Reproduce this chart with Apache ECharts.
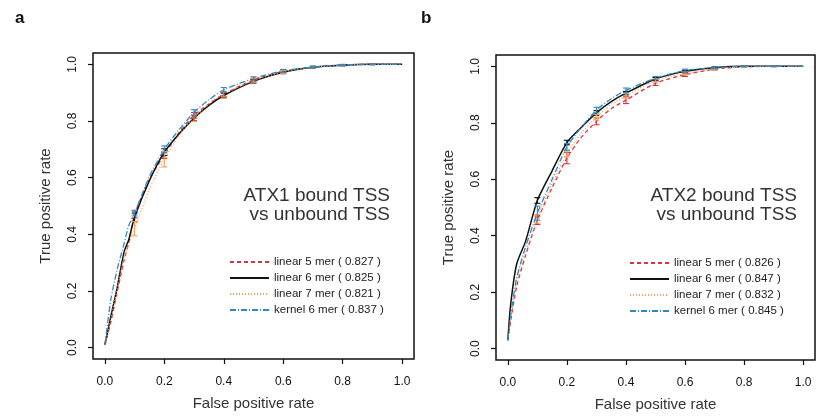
<!DOCTYPE html>
<html><head><meta charset="utf-8">
<script src="https://cdn.jsdelivr.net/npm/echarts@6/dist/echarts.min.js"></script>
<style>html,body{margin:0;padding:0;background:#fff}#c{width:816px;height:417px}</style>
</head><body><div id="c"></div>
<script>
// ---------- data ----------
const tickValues = [0, 0.2, 0.4, 0.6, 0.8, 1.0];
const errX = [0.1, 0.2, 0.3, 0.4, 0.5, 0.6, 0.7, 0.8, 0.9];

// Panel a (ATX1)
const fprA = [0, 0.02, 0.04, 0.065, 0.08, 0.1, 0.15, 0.2, 0.25, 0.3, 0.35, 0.4, 0.5, 0.6, 0.7, 0.8, 0.9, 1.0];
const a_lin5 = [0.01, 0.09, 0.19, 0.31, 0.37, 0.47, 0.595, 0.68, 0.76, 0.82, 0.86, 0.895, 0.945, 0.975, 0.99, 0.997, 1.0, 1.0];
const a_lin6 = [0.01, 0.11, 0.205, 0.34, 0.38, 0.46, 0.59, 0.69, 0.755, 0.81, 0.855, 0.89, 0.94, 0.972, 0.99, 0.997, 1.0, 1.0];
const a_lin7 = [0.01, 0.10, 0.20, 0.32, 0.36, 0.42, 0.56, 0.665, 0.75, 0.81, 0.86, 0.895, 0.943, 0.973, 0.99, 0.997, 1.0, 1.0];
const a_ker6 = [0.01, 0.17, 0.27, 0.37, 0.43, 0.475, 0.605, 0.70, 0.77, 0.83, 0.875, 0.91, 0.95, 0.977, 0.99, 0.998, 1.0, 1.0];
const a_err_lin5 = [0.012, 0.012, 0.01, 0.008, 0.006, 0.005, 0.003, 0.002, 0.001];
const a_err_lin6 = [0.015, 0.012, 0.01, 0.008, 0.006, 0.005, 0.003, 0.002, 0.001];
const a_err_lin7 = [0.025, 0.027, 0.012, 0.01, 0.006, 0.005, 0.003, 0.002, 0.001];
const a_err_ker6 = [0.01, 0.012, 0.01, 0.008, 0.006, 0.005, 0.003, 0.002, 0.001];
const a_names = ['linear 5 mer ( 0.827 )', 'linear 6 mer ( 0.825 )', 'linear 7 mer ( 0.821 )', 'kernel 6 mer ( 0.837 )'];

// Panel b (ATX2)
const fprB = [0, 0.01, 0.03, 0.06, 0.1, 0.15, 0.2, 0.25, 0.3, 0.35, 0.4, 0.5, 0.6, 0.7, 0.8, 0.9, 1.0];
const b_lin5 = [0.03, 0.10, 0.22, 0.33, 0.455, 0.57, 0.675, 0.75, 0.805, 0.85, 0.88, 0.94, 0.97, 0.99, 0.998, 1.0, 1.0];
const b_lin6 = [0.03, 0.16, 0.30, 0.38, 0.525, 0.63, 0.73, 0.785, 0.835, 0.875, 0.905, 0.955, 0.982, 0.995, 1.0, 1.0, 1.0];
const b_lin7 = [0.03, 0.11, 0.24, 0.34, 0.46, 0.585, 0.69, 0.765, 0.82, 0.865, 0.895, 0.95, 0.975, 0.99, 0.998, 1.0, 1.0];
const b_ker6 = [0.03, 0.12, 0.25, 0.36, 0.48, 0.60, 0.715, 0.785, 0.845, 0.885, 0.915, 0.958, 0.985, 0.995, 1.0, 1.0, 1.0];
const b_err_lin5 = [0.015, 0.02, 0.012, 0.012, 0.008, 0.006, 0.003, 0.002, 0.001];
const b_err_lin6 = [0.01, 0.008, 0.008, 0.006, 0.005, 0.004, 0.003, 0.002, 0.001];
const b_err_lin7 = [0.015, 0.01, 0.01, 0.008, 0.006, 0.005, 0.003, 0.002, 0.001];
const b_err_ker6 = [0.025, 0.012, 0.01, 0.008, 0.006, 0.005, 0.003, 0.002, 0.001];
const b_names = ['linear 5 mer ( 0.826 )', 'linear 6 mer ( 0.847 )', 'linear 7 mer ( 0.832 )', 'kernel 6 mer ( 0.845 )'];

// ---------- styles ----------
const FONT = '"Liberation Sans", Arial, Helvetica, sans-serif';
const colors = ['#d9333f', '#111111', '#f5a352', '#2f8ac4'];
const dashes = [[4, 3], 'solid', [1, 2], [6, 2, 1, 2]];
const widths = [1.3, 1.5, 1.3, 1.3];

function pairs(xs, ys) { return xs.map((x, i) => [x, ys[i]]); }
function errData(xs, ys, err) {
  return errX.map((x, i) => {
    const k = xs.findIndex(v => Math.abs(v - x) < 1e-9);
    const c = ys[k];
    return [x, c - err[i], c + err[i]];
  });
}

function axes(gi) {
  return {
    x: {
      gridIndex: gi, type: 'value', min: -0.04, max: 1.04,
      axisLine: { show: false, onZero: false },
      axisTick: { show: true, length: 5, customValues: tickValues, lineStyle: { color: '#111', width: 1.2 } },
      axisLabel: { customValues: tickValues, formatter: v => v.toFixed(1), margin: 17, fontSize: 12, color: '#111', fontFamily: FONT },
      splitLine: { show: false },
      name: 'False positive rate', nameLocation: 'middle', nameGap: 37,
      nameTextStyle: { fontSize: 15, color: '#333', fontFamily: FONT }
    },
    y: {
      gridIndex: gi, type: 'value', min: -0.04, max: 1.04,
      axisLine: { show: false, onZero: false },
      axisTick: { show: true, length: 5, customValues: tickValues, lineStyle: { color: '#111', width: 1.2 } },
      axisLabel: { customValues: tickValues, formatter: v => v.toFixed(1), rotate: 90, margin: 14, fontSize: 12, color: '#111', fontFamily: FONT },
      splitLine: { show: false },
      name: 'True positive rate', nameLocation: 'middle', nameGap: 40,
      nameTextStyle: { fontSize: 15, color: '#333', fontFamily: FONT }
    }
  };
}

function panelSeries(gi, xs, lines, errs, names) {
  const out = [];
  lines.forEach((ys, i) => {
    out.push({
      type: 'line', name: names[i], xAxisIndex: gi, yAxisIndex: gi,
      data: pairs(xs, ys), showSymbol: false, symbol: 'none', smooth: 0.25,
      lineStyle: { color: colors[i], type: dashes[i], width: widths[i] },
      itemStyle: { color: colors[i] }, z: 3 + i, silent: true
    });
  });
  lines.forEach((ys, i) => {
    out.push({
      type: 'custom', xAxisIndex: gi, yAxisIndex: gi, z: 7, silent: true,
      data: errData(xs, ys, errs[i]),
      encode: { x: 0, y: [1, 2] },
      renderItem: (params, api) => {
        const lo = api.coord([api.value(0), api.value(1)]);
        const hi = api.coord([api.value(0), api.value(2)]);
        const w = 3;
        const st = { stroke: colors[i], lineWidth: 1.1 };
        return {
          type: 'group', children: [
            { type: 'line', shape: { x1: lo[0], y1: lo[1], x2: hi[0], y2: hi[1] }, style: st },
            { type: 'line', shape: { x1: lo[0] - w, y1: lo[1], x2: lo[0] + w, y2: lo[1] }, style: st },
            { type: 'line', shape: { x1: hi[0] - w, y1: hi[1], x2: hi[0] + w, y2: hi[1] }, style: st }
          ]
        };
      }
    });
  });
  return out;
}

const axA = axes(0), axB = axes(1);
const legendCommon = {
  orient: 'vertical', itemWidth: 39, itemHeight: 10, itemGap: 4, selectedMode: false, padding: 0,
  itemStyle: { color: 'rgba(0,0,0,0)', borderColor: 'rgba(0,0,0,0)', borderWidth: 0, opacity: 0 },
  textStyle: { fontSize: 11.5, color: '#222', fontFamily: FONT }
};

const option = {
  animation: false,
  backgroundColor: '#fff',
  textStyle: { fontFamily: FONT },
  title: [
    { text: 'a', left: 10, top: 5, textStyle: { fontSize: 17, fontWeight: 'bold', color: '#111', fontFamily: FONT } },
    { text: 'b', left: 416, top: 5, textStyle: { fontSize: 17, fontWeight: 'bold', color: '#111', fontFamily: FONT } }
  ],
  grid: [
    { left: 93, top: 53, width: 321, height: 306, show: true, borderColor: '#111', borderWidth: 1.5, backgroundColor: 'transparent' },
    { left: 496, top: 55, width: 319, height: 305, show: true, borderColor: '#111', borderWidth: 1.5, backgroundColor: 'transparent' }
  ],
  xAxis: [axA.x, axB.x],
  yAxis: [axA.y, axB.y],
  legend: [
    Object.assign({ data: a_names, left: 229, top: 256 }, legendCommon),
    Object.assign({ data: b_names, left: 629, top: 257 }, legendCommon)
  ],
  graphic: [
    { type: 'text', x: 390, y: 186, style: { text: 'ATX1 bound TSS\nvs unbound TSS', align: 'right', verticalAlign: 'top', fontSize: 19, lineHeight: 19, fill: '#333', fontFamily: FONT } },
    { type: 'text', x: 797, y: 186, style: { text: 'ATX2 bound TSS\nvs unbound TSS', align: 'right', verticalAlign: 'top', fontSize: 19, lineHeight: 19, fill: '#333', fontFamily: FONT } }
  ],
  series: [].concat(
    panelSeries(0, fprA, [a_lin5, a_lin6, a_lin7, a_ker6], [a_err_lin5, a_err_lin6, a_err_lin7, a_err_ker6], a_names),
    panelSeries(1, fprB, [b_lin5, b_lin6, b_lin7, b_ker6], [b_err_lin5, b_err_lin6, b_err_lin7, b_err_ker6], b_names)
  )
};

const chart = echarts.init(document.getElementById('c'), null, { renderer: 'canvas' });
chart.setOption(option);
</script>
</body></html>
